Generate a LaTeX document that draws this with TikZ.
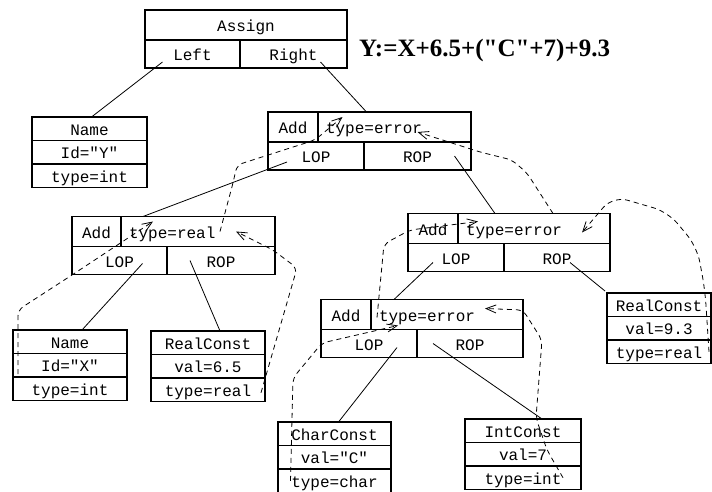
\documentclass[tikz,border=0pt]{standalone}
\usepackage{fontspec}
\setmainfont[Ligatures=TeXOff]{Liberation Serif}
\setmonofont{Liberation Mono}
\usepackage{tikz}
\usetikzlibrary{arrows.meta,positioning}

\begin{document}
\begin{tikzpicture}[x=1pt,y=-1pt,>={Straight Barb[length=10pt,width=8pt]},
  cell/.style={draw,line width=1.1pt,inner sep=0pt,outer sep=0pt,
    minimum height=23.5pt,text height=13pt,text depth=0pt,
    font=\ttfamily\fontsize{16}{18}\selectfont},
  head/.style={cell,minimum height=30pt},
  typecell/.style={head,anchor=west,align=left,inner xsep=8pt,text width=#1},
  opcell/.style={cell,minimum height=28pt,anchor=north west,minimum width=#1},
  link/.style={line width=0.8pt},
  attr/.style={->,line width=0.8pt,dash pattern=on 5pt off 4pt,rounded corners=6pt}]

  \useasboundingbox (0,0) rectangle (712,491);

  % Assign and the source line
  \node[head,minimum width=202pt] (assign) at (246,25) {Assign};
  \node[opcell=95pt] (assignL) at (assign.south west) {Left};
  \node[opcell=107pt] (assignR) at (assignL.north east) {Right};
  \node[font=\bfseries\fontsize{25}{29}\selectfont,inner sep=0pt,anchor=base west]
    (expr) at (359,56) {Y:=X+6.5+("C"+7)+9.3};

  % Name Y
  \node[cell,minimum width=115pt] (nameY) at (89.5,128.75) {Name};
  \node[cell,minimum width=115pt,below=0pt of nameY] (nameYid) {Id="Y"};
  \node[cell,minimum width=115pt,below=0pt of nameYid] (nameYtype) {type=int};

  % Add nodes
  \node[head,minimum width=50pt] (add1) at (293,127) {Add};
  \node[typecell=137pt] (add1t) at (add1.east) {type=error};
  \node[opcell=96pt] (add1l) at (add1.south west) {LOP};
  \node[opcell=107pt] (add1r) at (add1l.north east) {ROP};

  \node[head,minimum width=49pt] (add2) at (96.5,231.5) {Add};
  \node[typecell=138pt] (add2t) at (add2.east) {type=real};
  \node[opcell=95pt] (add2l) at (add2.south west) {LOP};
  \node[opcell=108pt] (add2r) at (add2l.north east) {ROP};

  \node[head,minimum width=50pt] (add3) at (433,228.5) {Add};
  \node[typecell=136pt] (add3t) at (add3.east) {type=error};
  \node[opcell=96pt] (add3l) at (add3.south west) {LOP};
  \node[opcell=106pt] (add3r) at (add3l.north east) {ROP};

  \node[head,minimum width=50pt] (add4) at (346,314.5) {Add};
  \node[typecell=136pt] (add4t) at (add4.east) {type=error};
  \node[opcell=96pt] (add4l) at (add4.south west) {LOP};
  \node[opcell=106pt] (add4r) at (add4l.north east) {ROP};

  % leaves
  \node[cell,minimum width=114pt] (nameX) at (70,341.75) {Name};
  \node[cell,minimum width=114pt,below=0pt of nameX] (nameXid) {Id="X"};
  \node[cell,minimum width=114pt,below=0pt of nameXid] (nameXtype) {type=int};

  \node[cell,minimum width=114pt] (real1) at (208,342.75) {RealConst};
  \node[cell,minimum width=114pt,below=0pt of real1] (real1val) {val=6.5};
  \node[cell,minimum width=114pt,below=0pt of real1val] (real1type) {type=real};

  \node[cell,minimum width=113pt] (char1) at (334.5,433.75) {CharConst};
  \node[cell,minimum width=113pt,below=0pt of char1] (char1val) {val="C"};
  \node[cell,minimum width=113pt,below=0pt of char1val] (char1type) {type=char};

  \node[cell,minimum width=116pt] (int1) at (523,430.75) {IntConst};
  \node[cell,minimum width=116pt,below=0pt of int1] (int1val) {val=7};
  \node[cell,minimum width=116pt,below=0pt of int1val] (int1type) {type=int};

  \node[cell,minimum width=104pt] (real2) at (659,304.75) {RealConst};
  \node[cell,minimum width=104pt,below=0pt of real2] (real2val) {val=9.3};
  \node[cell,minimum width=104pt,below=0pt of real2val] (real2type) {type=real};

  % tree links
  \draw[link] ([shift={(-30,8)}]assignL.center) -- ([xshift=2pt]nameY.north);
  \draw[link] ([shift={(27,8)}]assignR.center) -- ([xshift=-28pt]add1t.north);
  \draw[link] ([shift={(-29,6)}]add1l.center) -- ([xshift=22pt]add2t.north west);
  \draw[link] ([shift={(37,0)}]add1r.center) -- ([xshift=37pt]add3t.north west);
  \draw[link] ([shift={(23,3)}]add2l.center) -- ([xshift=12pt]nameX.north);
  \draw[link] ([shift={(-31,0)}]add2r.center) -- ([xshift=12pt]real1.north);
  \draw[link] ([shift={(-23,5)}]add3l.center) -- ([xshift=23pt]add4t.north west);
  \draw[link] ([shift={(13,5)}]add3r.center) -- ([shift={(-2,-2)}]real2.north west);
  \draw[link] ([shift={(28,4)}]add4l.center) -- ([xshift=4pt]char1.north);
  \draw[link] ([shift={(-37,0)}]add4r.center) -- ([xshift=19pt]int1.north);

  % type attribute flow
  \draw[attr] ([shift={(5,-3)}]nameXtype.north west) -- (18,310) -- (72,275)
    -- ([shift={(32,-10)}]add2t.west);
  \draw[attr] ([shift={(53,3)}]real1type.center) -- (297,268) -- (273,250)
    -- ([shift={(38,0)}]add2t.center);
  \draw[attr] ([shift={(22,0)}]add2t.center) -- (233,183) -- (237,165) -- (315,140)
    -- ([shift={(-52,-10)}]add1t.center);
  \draw[attr] ([shift={(19,-15)}]add3t.center) -- (527,173) -- (512,160) -- (480,152)
    -- ([shift={(23,5)}]add1t.center);
  \draw[attr] ([shift={(6,3)}]add4t.west) -- (384,244) -- (410,230)
    -- ([shift={(20,-7)}]add3t.west);
  \draw[attr,rounded corners=15pt] ([shift={(50,0)}]real2type.center) -- (705,290)
    -- (697,247) -- (668,212) -- (613,196) -- ([shift={(48,4)}]add3t.center);
  \draw[attr] ([shift={(40,0)}]int1type.center) -- (547,450) -- (536,418) -- (542,340)
    -- (523,310) -- ([shift={(38,-6)}]add4t.center);
  \draw[attr] ([shift={(-44,0)}]char1type.center) -- (293,378) -- (322,343)
    -- ([shift={(27,11)}]add4t.west);
\end{tikzpicture}
\end{document}
